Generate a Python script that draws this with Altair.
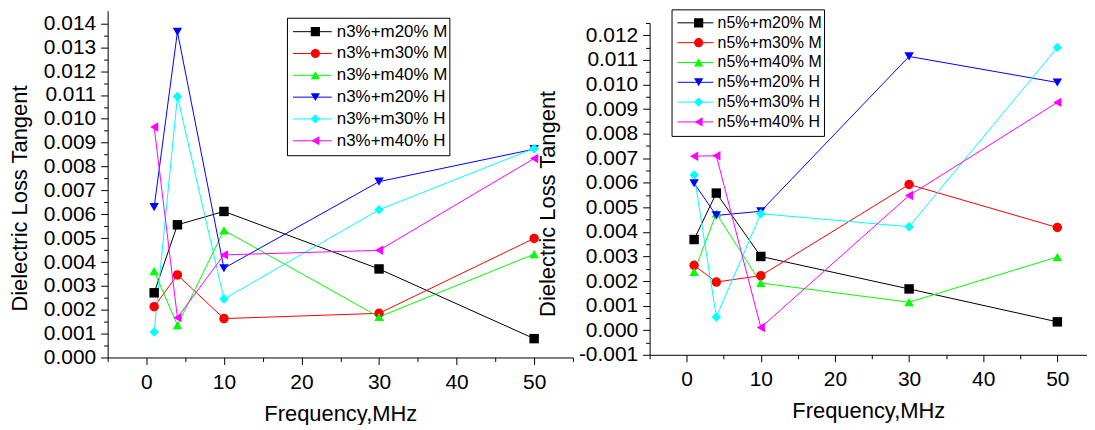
import altair as alt
import pandas as pd

freqs = [1, 4, 10, 30, 50]

left_series = ["n3%+m20% M", "n3%+m30% M", "n3%+m40% M",
               "n3%+m20% H", "n3%+m30% H", "n3%+m40% H"]
left_m20_M = [0.00271, 0.00556, 0.00612, 0.00371, 0.00079]
left_m30_M = [0.00213, 0.00346, 0.00163, 0.00185, 0.00499]
left_m40_M = [0.00362, 0.00135, 0.00533, 0.00170, 0.00433]
left_m20_H = [0.00630, 0.01365, 0.00374, 0.00737, 0.00873]
left_m30_H = [0.00107, 0.01094, 0.00245, 0.00619, 0.00876]
left_m40_H = [0.00966, 0.00167, 0.00430, 0.00449, 0.00834]

right_series = ["n5%+m20% M", "n5%+m30% M", "n5%+m40% M",
                "n5%+m20% H", "n5%+m30% H", "n5%+m40% H"]
right_m20_M = [0.00369, 0.00558, 0.00300, 0.00168, 0.00034]
right_m30_M = [0.00264, 0.00196, 0.00222, 0.00593, 0.00418]
right_m40_M = [0.00237, 0.00475, 0.00192, 0.00114, 0.00298]
right_m20_H = [0.00598, 0.00467, 0.00484, 0.01114, 0.01008]
right_m30_H = [0.00632, 0.00054, 0.00474, 0.00421, 0.01150]
right_m40_H = [0.00708, 0.00710, 0.00011, 0.00548, 0.00927]

colors = ["#000000", "#ff0000", "#00ff00", "#0000ff", "#00ffff", "#ff00ff"]
shapes = ["square", "circle", "triangle-up", "triangle-down", "diamond", "triangle-left"]

x_ticks = [-5, 0, 5, 10, 15, 20, 25, 30, 35, 40, 45, 50, 55]
left_y_ticks = [round(i * 0.0005, 4) for i in range(0, 29)]
right_y_ticks = [round(-0.001 + i * 0.0005, 4) for i in range(0, 28)]

FONT = "Liberation Sans"

Y_LABEL = ("abs(datum.value*1000 - round(datum.value*1000)) < 1e-6 ? "
           "replace(format(datum.value, '.3f'), '\u2212', '-') : ''")
Y_MAJOR = "abs(datum.value*1000 - round(datum.value*1000)) < 1e-6"
X_LABEL = ("datum.value >= 0 && datum.value <= 50 && datum.value % 10 === 0 ? "
           "format(datum.value, 'd') : ''")
X_MAJOR = "datum.value % 10 === 0"

INDEP = dict(color="independent", stroke="independent", shape="independent")


def panel(series, values, x_dom, x_vals, y_dom, y_vals, width, height,
          title_y, y_title_pad, leg):
    rows = []
    for s, vals in zip(series, values):
        for f, v in zip(freqs, vals):
            rows.append({"freq": f, "value": v, "series": s, "sl": s + " "})
    df = pd.DataFrame(rows)

    x = alt.X("freq:Q",
              scale=alt.Scale(domain=x_dom, nice=False, zero=False),
              axis=alt.Axis(values=x_vals, labelExpr=X_LABEL, title="Frequency,MHz",
                            tickSize={"condition": {"test": X_MAJOR, "value": 7}, "value": 4},
                            labelPadding=7, titlePadding=11, labelFlush=False,
                            labelOverlap=False, grid=False))
    y = alt.Y("value:Q",
              scale=alt.Scale(domain=y_dom, nice=False, zero=False),
              axis=alt.Axis(values=y_vals, labelExpr=Y_LABEL, title="Dielectric Loss Tangent",
                            tickSize={"condition": {"test": Y_MAJOR, "value": 7}, "value": 4},
                            labelPadding=5, titlePadding=y_title_pad, titleY=title_y,
                            labelOverlap=False, labelFlush=False, grid=False))

    line_leg = alt.Legend(orient="none", legendX=leg["x"], legendY=leg["y"], title=None,
                          direction="vertical", symbolType="stroke",
                          symbolSize=leg["line"] ** 2, symbolStrokeWidth=1,
                          clipHeight=leg["fs"], rowPadding=leg["rp"],
                          labelFont=FONT, labelFontSize=leg["fs"], labelOpacity=0,
                          labelOffset=0, labelLimit=leg["lim"],
                          padding=5.5, strokeColor="black")
    pt_leg = alt.Legend(orient="none", legendX=leg["x"], legendY=leg["y"], title=None,
                        direction="vertical", symbolSize=85, symbolStrokeWidth=0,
                        clipHeight=leg["fs"], rowPadding=leg["rp"],
                        symbolOffset=leg["so"], labelOffset=leg["lo2"],
                        labelFont=FONT, labelFontSize=leg["fs"], labelColor="black",
                        padding=5.5, symbolOpacity=1)

    lines = alt.Chart(df).mark_line(strokeWidth=1).encode(
        x=x, y=y,
        stroke=alt.Stroke("sl:N", scale=alt.Scale(domain=[s + " " for s in series], range=colors),
                          legend=line_leg),
    )
    points = alt.Chart(df).mark_point(filled=True, size=90, opacity=1).encode(
        x=x, y=y,
        color=alt.Color("series:N", scale=alt.Scale(domain=series, range=colors), legend=pt_leg),
        shape=alt.Shape("series:N", scale=alt.Scale(domain=series, range=shapes), legend=pt_leg),
    )
    return alt.layer(lines, points).properties(width=width, height=height)


left = panel(left_series,
             [left_m20_M, left_m30_M, left_m40_M, left_m20_H, left_m30_H, left_m40_H],
             [-5, 55], x_ticks, [0, 0.01453], left_y_ticks, 467, 348, 188, 12,
             {"x": 180, "y": 7, "line": 39, "fs": 17, "rp": 3.9, "lim": 115, "so": 14.5, "lo2": 13})

right = panel(right_series,
              [right_m20_M, right_m30_M, right_m40_M, right_m20_H, right_m30_H, right_m40_H],
              [-5, 54], x_ticks[:-1], [-0.001, 0.0125], right_y_ticks, 439, 333, 181, 19,
              {"x": 22, "y": -13.7, "line": 36, "fs": 16, "rp": 3.9, "lim": 111, "so": 13.7, "lo2": 11})

# invisible 1px spacer that lowers the right panel relative to the left one
spacer = alt.Chart(pd.DataFrame({"s": [0]})).mark_point(size=0, opacity=0).encode(
    x=alt.value(0), y=alt.value(0)
).properties(width=1, height=1)

right_col = alt.vconcat(spacer, right, spacing=-3.7).resolve_scale(
    x="independent", y="independent", **INDEP
).resolve_legend(**INDEP)

chart = alt.hconcat(left, right_col, spacing=-38).resolve_scale(
    x="independent", y="independent", **INDEP
).resolve_legend(**INDEP).properties(
    padding={"left": 0, "top": 0, "right": 0, "bottom": 0},
    background="white",
).configure_view(stroke=None).configure_axis(
    labelFont=FONT, labelFontSize=21, labelColor="black",
    titleFont=FONT, titleFontSize=22, titleFontWeight="normal", titleColor="black",
    domainColor="black", tickColor="black", domainWidth=1, tickWidth=1,
)

chart.save("out.html", embed_options={"renderer": "svg", "actions": False})
